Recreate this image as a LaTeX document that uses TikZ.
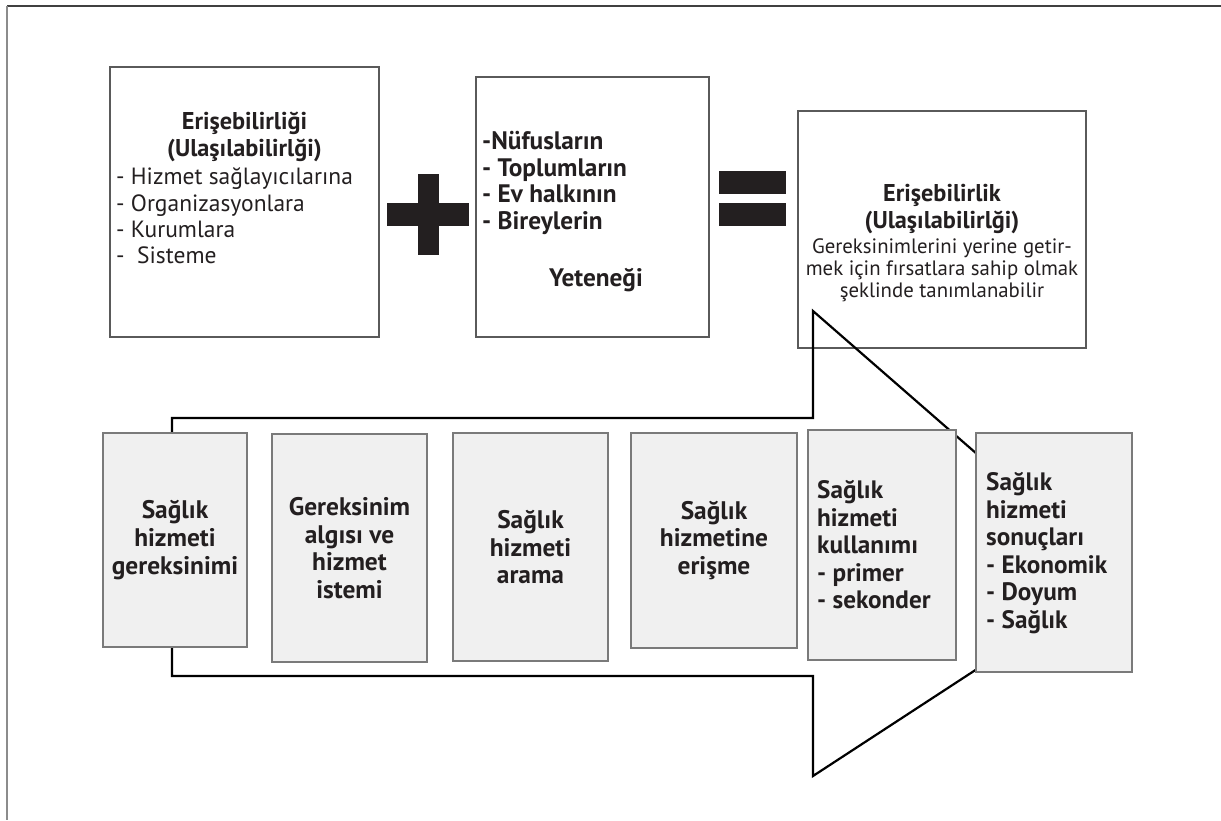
\documentclass[tikz,border=0pt]{standalone}
\usepackage{fontspec}
\setmainfont{PT Sans}
\definecolor{txt}{HTML}{231F20}
\definecolor{bfill}{HTML}{F0F0F0}
\definecolor{bdraw}{HTML}{7A7A7A}
\definecolor{tdraw}{HTML}{5A5A5A}
\begin{document}
\begin{tikzpicture}[x=1pt,y=-1pt,
  topbox/.style={draw=tdraw, line width=1.1pt, fill=white, inner sep=0pt},
  botbox/.style={draw=bdraw, line width=2.2pt, fill=bfill, inner sep=0pt,
     font=\fontsize{25.4}{27.7}\selectfont\bfseries, text=txt, align=center},
  hd/.style={font=\fontsize{24.3}{27.8}\selectfont\bfseries, text=txt, align=center, inner sep=0pt},
  itemr/.style={font=\fontsize{23.5}{26.3}\selectfont, text=txt, align=left, inner sep=0pt},
  itemb/.style={font=\fontsize{25.3}{26.6}\selectfont\bfseries, text=txt, align=left, inner sep=0pt},
  botleft/.style={font=\fontsize{25.2}{27.5}\selectfont\bfseries, text=txt, align=left, inner sep=0pt},
  body/.style={font=\fontsize{20.8}{22}\selectfont, text=txt, align=center, inner sep=0pt},
  sym/.style={fill=txt},
  arrowline/.style={draw=black, line width=2.2pt, line join=miter}
]
\useasboundingbox (0,0) rectangle (1221,820);
% frame
\draw[draw=black!75, line width=1.3pt] (7,6) -- (1221,6);
\draw[draw=black!45, line width=1.8pt] (7,6) -- (7,820);

% top boxes
\node[topbox, minimum width=269pt, minimum height=270pt] (boxA) at (244.5,202) {};
\node[hd] (boxAh) at (244.5,137) {Erişebilirliği\\(Ulaşılabilirlği)};
\node[itemr, anchor=west] (boxAi) at (116,216) {- Hizmet sağlayıcılarına\\- Organizasyonlara\\- Kurumlara\\-\ \ Sisteme};

\fill[sym] (387,203) rectangle (469,226);
\fill[sym] (418,174) rectangle (439,255);

\node[topbox, minimum width=233pt, minimum height=260pt] (boxB) at (592.5,207) {};
\node[itemb, anchor=west] (boxBi) at (482,183) {-Nüfusların\\- Toplumların\\- Ev halkının\\- Bireylerin};
\node[itemb, align=center] (boxBy) at (596,280) {Yeteneği};

\fill[sym] (719,171) rectangle (786,194);
\fill[sym] (719,203) rectangle (786,226);

\node[topbox, minimum width=288pt, minimum height=237pt] (boxC) at (942,229.5) {};
\node[hd] (boxCh) at (942,209) {Erişebilirlik\\(Ulaşılabilirlği)};
\node[body] (boxCb) at (942,270) {Gereksinimlerini yerine getir-\\mek için fırsatlara sahip olmak\\şeklinde tanımlanabilir};

% big arrow
\coordinate (a1) at (172,418);
\coordinate (a2) at (813,418);
\coordinate (a3) at (813,311);
\coordinate (a4) at (1118,577);
\coordinate (a5) at (813,776);
\coordinate (a6) at (813,676);
\coordinate (a7) at (172,676);
\draw[arrowline] (a1) -- (a2) -- (a3) -- (a4) -- (a5) -- (a6) -- (a7) -- cycle;

% bottom boxes
\node[botbox, minimum width=144pt, minimum height=214pt] (b1) at (175,540) {Sağlık\\hizmeti\\gereksinimi};
\node[botbox, minimum width=155pt, minimum height=228pt] (b2) at (349.5,548) {Gereksinim\\algısı ve\\hizmet\\istemi};
\node[botbox, minimum width=155pt, minimum height=228pt] (b3) at (530.5,547) {Sağlık\\hizmeti\\arama};
\node[botbox, minimum width=166pt, minimum height=215pt] (b4) at (714,540.5) {Sağlık\\hizmetine\\erişme};
\node[botbox, minimum width=148pt, minimum height=230pt] (b5) at (882,545) {};
\node[botleft, anchor=west] (b5t) at (817,545) {Sağlık\\hizmeti\\kullanımı\\- primer\\- sekonder};
\node[botbox, minimum width=156pt, minimum height=239pt] (b6) at (1054,552.5) {};
\node[botleft, anchor=west] (b6t) at (986,553) {Sağlık\\hizmeti\\sonuçları\\- Ekonomik\\- Doyum\\- Sağlık};
\end{tikzpicture}
\end{document}
